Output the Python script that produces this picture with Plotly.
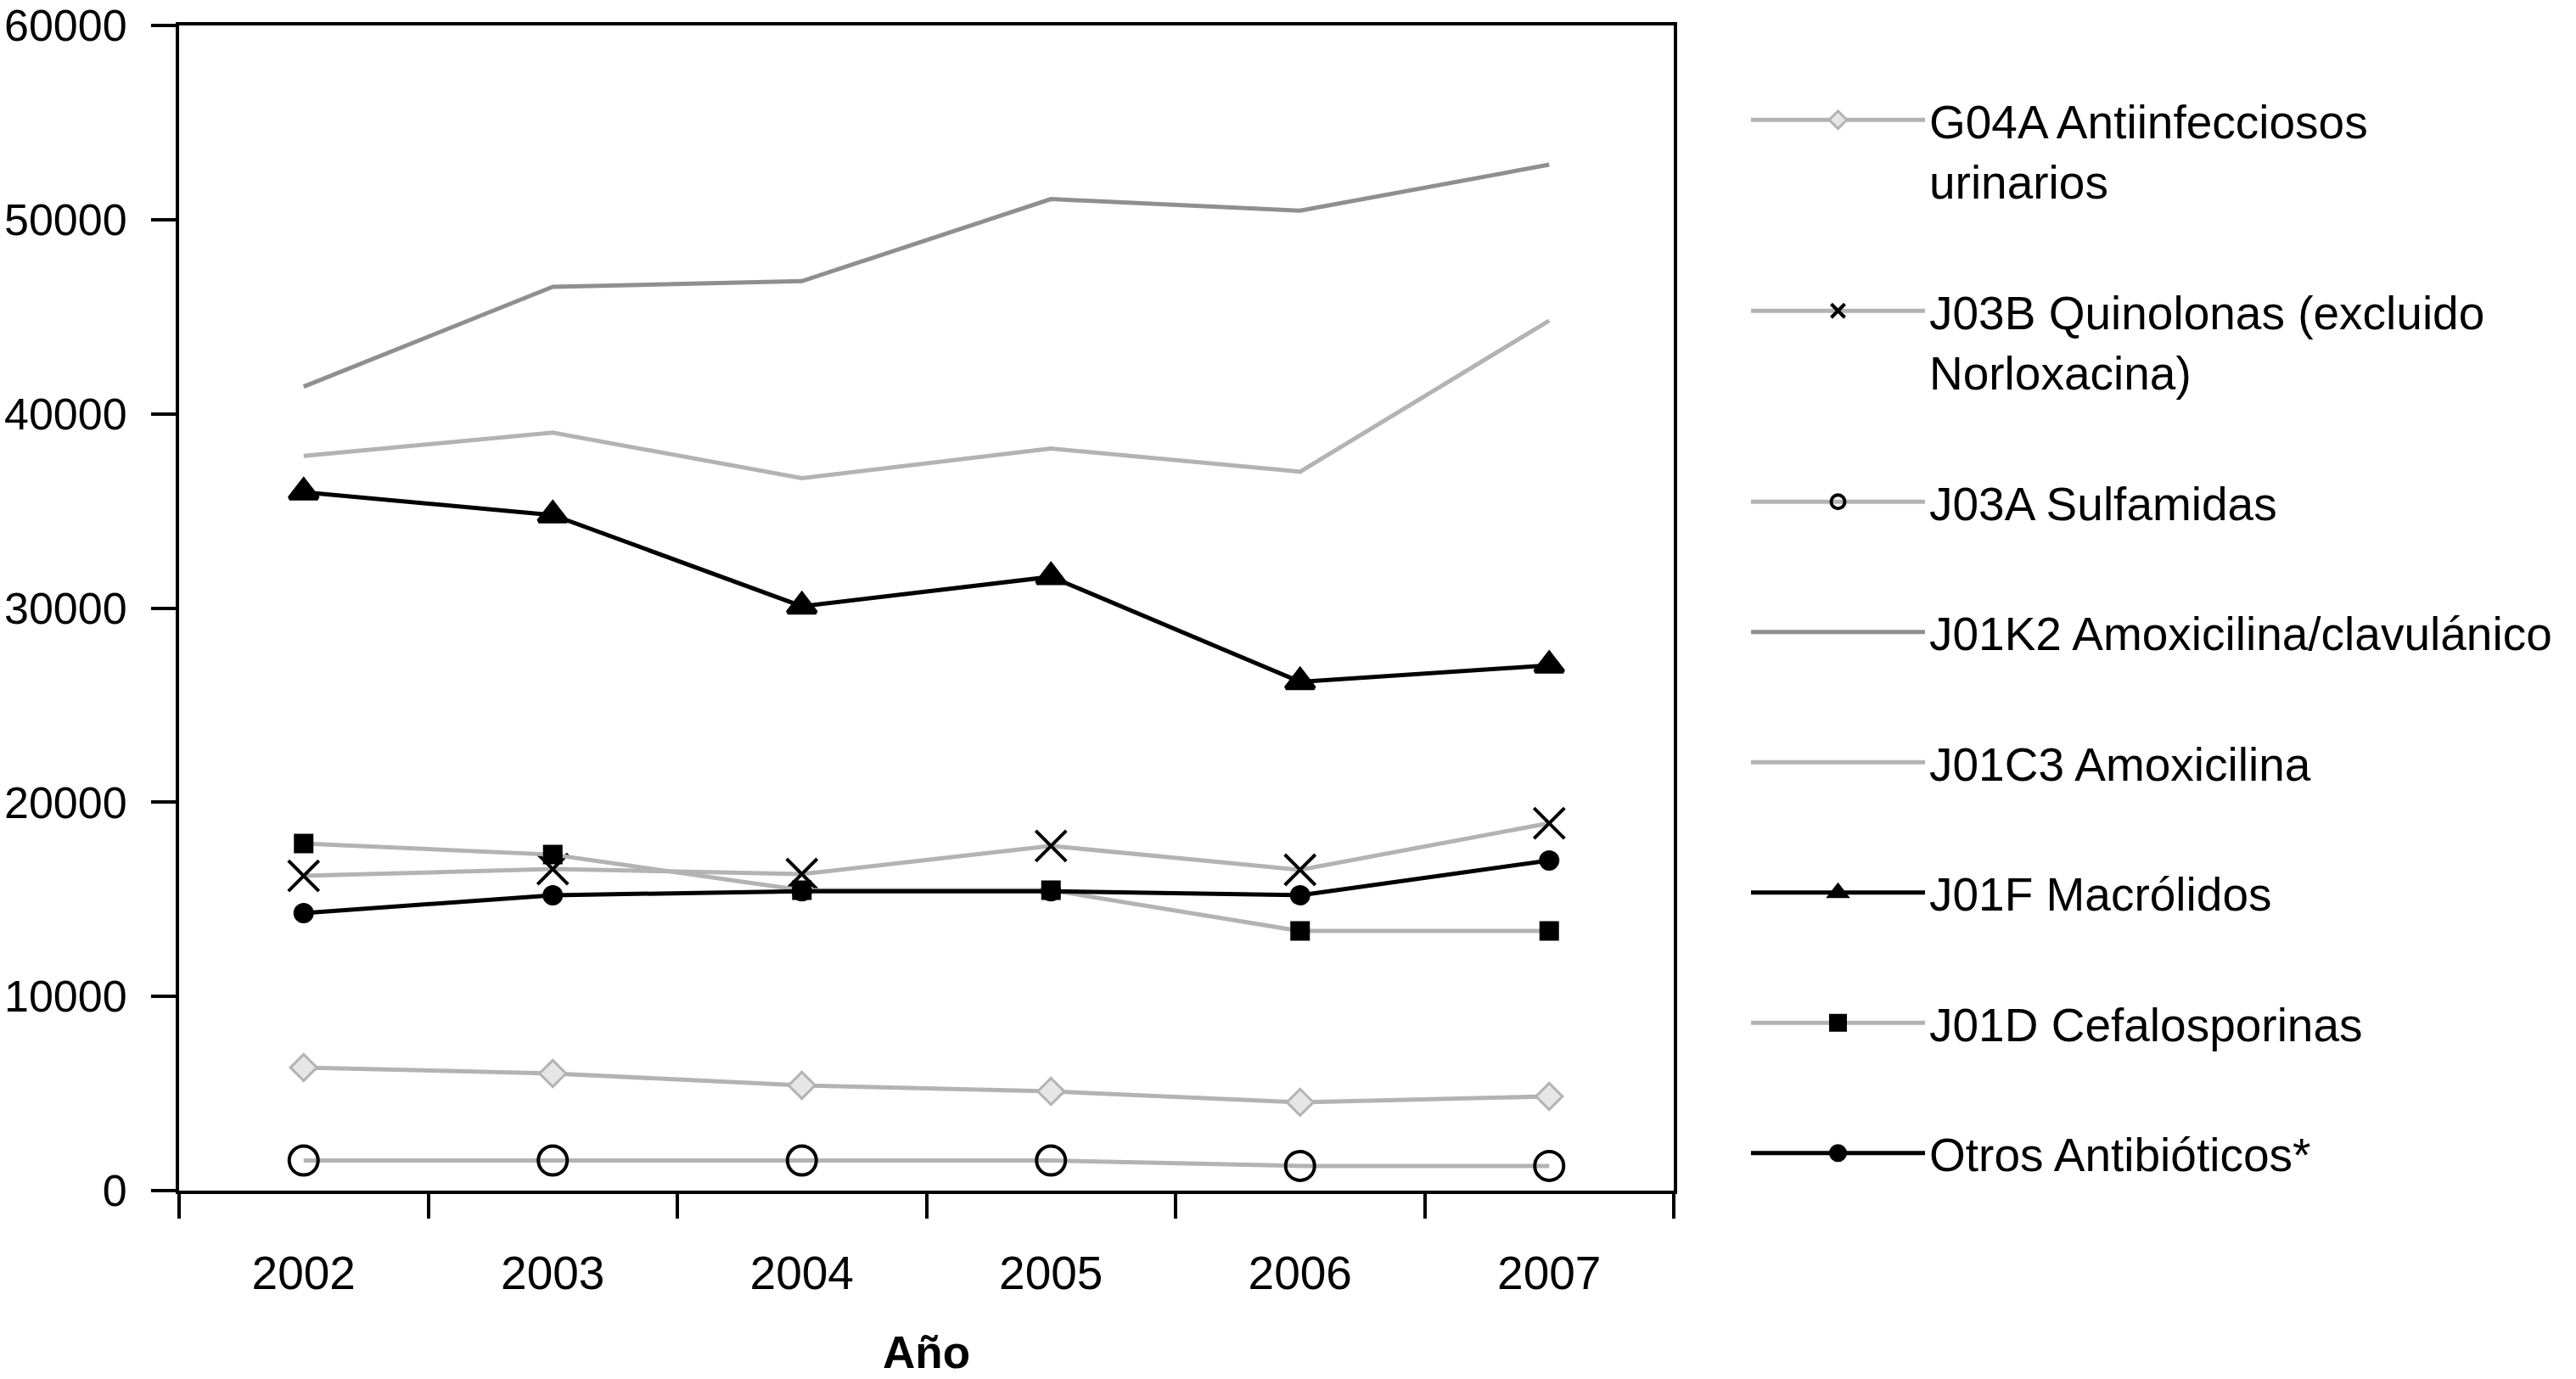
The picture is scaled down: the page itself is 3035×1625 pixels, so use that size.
import plotly.graph_objects as go

# ---- data ----
years = ["2002", "2003", "2004", "2005", "2006", "2007"]

names = [
    "G04A Antiinfecciosos<br>urinarios",
    "J03B Quinolonas (excluido<br>Norloxacina)",
    "J03A Sulfamidas",
    "J01K2 Amoxicilina/clavulánico",
    "J01C3 Amoxicilina",
    "J01F Macrólidos",
    "J01D Cefalosporinas",
    "Otros Antibióticos*",
]

g04a = [6340, 6030, 5420, 5110, 4550, 4850]
j03b = [16210, 16560, 16300, 17750, 16520, 18920]
j03a = [1550, 1550, 1550, 1550, 1270, 1270]
j01k2 = [41400, 46540, 46830, 51060, 50460, 52830]
j01c3 = [37830, 39030, 36690, 38210, 37020, 44800]
j01f = [35970, 34790, 30090, 31610, 26200, 27050]
j01d = [17870, 17300, 15470, 15470, 13370, 13370]
otros = [14290, 15210, 15420, 15420, 15210, 17000]

y_ticks = [0, 10000, 20000, 30000, 40000, 50000, 60000]

LIGHT = "#b3b3b3"
DARK = "#8f8f8f"
BLACK = "#000000"
FONT = "Liberation Sans, Arial, Helvetica, sans-serif"

series = [
    (g04a, dict(color=LIGHT, width=5), dict(symbol="diamond", size=24, color="#e6e6e6", line=dict(color=LIGHT, width=3)), "lines+markers"),
    (j03b, dict(color=LIGHT, width=5), dict(symbol="x-thin", size=36, color=BLACK, line=dict(color=BLACK, width=4)), "lines+markers"),
    (j03a, dict(color=LIGHT, width=5), dict(symbol="circle-open", size=34, color=BLACK, line=dict(color=BLACK, width=4)), "lines+markers"),
    (j01k2, dict(color=DARK, width=5), None, "lines"),
    (j01c3, dict(color=LIGHT, width=5), None, "lines"),
    (j01f, dict(color=BLACK, width=5), dict(symbol="triangle-up", size=29, color=BLACK, line=dict(color=BLACK, width=5)), "lines+markers"),
    (j01d, dict(color=LIGHT, width=5), dict(symbol="square", size=18, color=BLACK, line=dict(color=BLACK, width=5)), "lines+markers"),
    (otros, dict(color=BLACK, width=5), dict(symbol="circle", size=19, color=BLACK, line=dict(color=BLACK, width=5)), "lines+markers"),
]

fig = go.Figure()
for i, (vals, line, marker, mode) in enumerate(series):
    kw = dict(marker=marker) if marker else {}
    fig.add_trace(go.Scatter(
        x=years, y=vals, name=names[i], mode=mode, line=line,
        legendgroup=f"g{i}", **kw,
    ))

fig.update_layout(
    width=3035, height=1625,
    margin=dict(l=211, r=1063, t=30, b=222, autoexpand=False),
    paper_bgcolor="white", plot_bgcolor="white",
    font=dict(family=FONT, size=55, color="black"),
    showlegend=True,
    legend=dict(
        xref="container", yref="container",
        x=2058 / 3035, xanchor="left",
        y=1 - 99 / 1625, yanchor="top",
        font=dict(family=FONT, size=55, color="black"),
        itemwidth=205, tracegroupgap=79, valign="top",
        bgcolor="rgba(0,0,0,0)", borderwidth=0,
        maxheight=1,
    ),
    xaxis=dict(
        type="category", range=[-0.5, 5.5], tickson="boundaries",
        ticks="outside", ticklen=29, tickwidth=4, tickcolor="black",
        showline=True, linecolor="black", linewidth=4, mirror=True,
        showgrid=False, zeroline=False, automargin=False,
        ticklabelstandoff=46,
        tickfont=dict(family=FONT, size=55, color="black"),
        title=dict(text="<b>Año</b>", font=dict(family=FONT, size=53, color="black"), standoff=46),
    ),
    yaxis=dict(
        range=[0, 60000], tickvals=y_ticks, tickformat="d",
        ticks="outside", ticklen=29, tickwidth=4, tickcolor="black",
        showline=True, linecolor="black", linewidth=4, mirror=True,
        showgrid=False, zeroline=False, automargin=False,
        ticklabelstandoff=18, ticklabeloverflow="allow",
        tickfont=dict(family=FONT, size=52, color="black"),
    ),
)

fig.write_html(
    "out.html",
    config={"displayModeBar": False},
    post_script="document.body.style.margin='0px';document.body.style.overflow='hidden';",
)
